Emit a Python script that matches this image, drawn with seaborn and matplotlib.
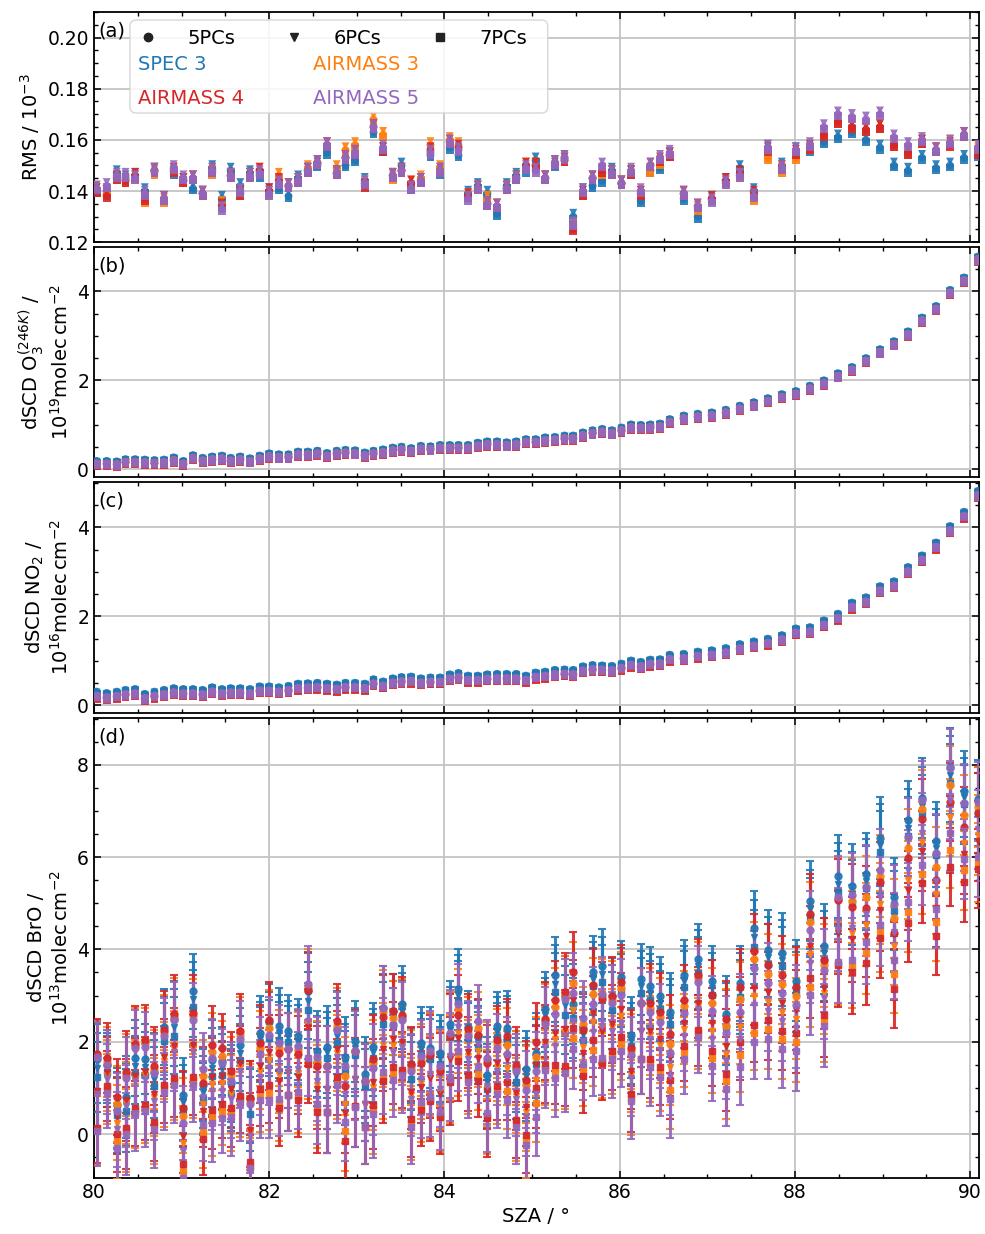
import numpy as np
import pandas as pd
import seaborn as sns
import matplotlib.pyplot as plt
from matplotlib.ticker import MultipleLocator
from matplotlib.patches import FancyBboxPatch
from matplotlib.lines import Line2D

sza = [80.03, 80.145, 80.26, 80.36, 80.47, 80.58, 80.69, 80.80, 80.91, 81.02,
       81.13, 81.24, 81.35, 81.46, 81.56, 81.67, 81.78, 81.89, 82.00, 82.11,
       82.22, 82.33, 82.44, 82.55, 82.66, 82.77, 82.87, 82.98, 83.09, 83.19,
       83.30, 83.41, 83.51, 83.62, 83.73, 83.84, 83.95, 84.06, 84.16, 84.27,
       84.38, 84.49, 84.60, 84.71, 84.82, 84.93, 85.04, 85.15, 85.26, 85.37,
       85.47, 85.58, 85.69, 85.80, 85.91, 86.02, 86.13, 86.24, 86.35, 86.46,
       86.57, 86.73, 86.89, 87.05, 87.21, 87.37, 87.53, 87.69, 87.85, 88.01,
       88.17, 88.33, 88.49, 88.65, 88.81, 88.97, 89.13, 89.29, 89.45, 89.61,
       89.77, 89.93, 90.09]

settings = ['SPEC 3', 'AIRMASS 3', 'AIRMASS 4', 'AIRMASS 5']
colors = ['#1f77b4', '#ff7f0e', '#d62728', '#9467bd']
pcs = ['5PCs', '6PCs', '7PCs']
pc_markers = ['o', 'v', 's']

# (a) RMS / 1e-3
rms_spec3 = [0.140, 0.140, 0.147, 0.145, 0.146, 0.140, 0.148, 0.137, 0.147, 0.144,
             0.141, 0.139, 0.149, 0.137, 0.148, 0.142, 0.147, 0.146, 0.140, 0.141,
             0.138, 0.145, 0.148, 0.150, 0.155, 0.147, 0.150, 0.152, 0.144, 0.163,
             0.156, 0.146, 0.150, 0.141, 0.144, 0.154, 0.147, 0.157, 0.154, 0.139,
             0.142, 0.139, 0.131, 0.142, 0.146, 0.148, 0.152, 0.145, 0.150, 0.153,
             0.130, 0.140, 0.142, 0.144, 0.148, 0.143, 0.147, 0.136, 0.148, 0.149,
             0.154, 0.137, 0.130, 0.137, 0.144, 0.149, 0.140, 0.157, 0.150, 0.156,
             0.156, 0.159, 0.161, 0.163, 0.160, 0.157, 0.150, 0.148, 0.153, 0.149,
             0.150, 0.153, 0.154]
rms_am3 = [0.141, 0.139, 0.145, 0.144, 0.145, 0.136, 0.147, 0.136, 0.148, 0.144,
           0.145, 0.139, 0.147, 0.135, 0.146, 0.139, 0.146, 0.148, 0.139, 0.146,
           0.142, 0.144, 0.149, 0.151, 0.158, 0.149, 0.156, 0.158, 0.143, 0.168,
           0.162, 0.145, 0.148, 0.143, 0.145, 0.158, 0.149, 0.160, 0.158, 0.138,
           0.141, 0.137, 0.134, 0.141, 0.145, 0.150, 0.150, 0.145, 0.151, 0.152,
           0.126, 0.139, 0.145, 0.147, 0.147, 0.143, 0.147, 0.139, 0.148, 0.151,
           0.154, 0.139, 0.133, 0.137, 0.143, 0.146, 0.137, 0.153, 0.148, 0.153,
           0.157, 0.162, 0.167, 0.165, 0.164, 0.165, 0.158, 0.155, 0.159, 0.156,
           0.159, 0.162, 0.156]
rms_am4 = [0.140, 0.138, 0.145, 0.144, 0.146, 0.137, 0.148, 0.137, 0.148, 0.144,
           0.145, 0.139, 0.148, 0.134, 0.146, 0.139, 0.146, 0.148, 0.140, 0.144,
           0.142, 0.144, 0.148, 0.151, 0.158, 0.147, 0.153, 0.155, 0.142, 0.165,
           0.156, 0.146, 0.148, 0.143, 0.144, 0.156, 0.148, 0.159, 0.157, 0.138,
           0.141, 0.135, 0.134, 0.141, 0.145, 0.150, 0.150, 0.145, 0.151, 0.152,
           0.125, 0.139, 0.145, 0.148, 0.147, 0.143, 0.147, 0.139, 0.150, 0.152,
           0.154, 0.139, 0.134, 0.137, 0.144, 0.147, 0.139, 0.156, 0.149, 0.155,
           0.157, 0.162, 0.167, 0.165, 0.164, 0.165, 0.158, 0.155, 0.159, 0.156,
           0.158, 0.162, 0.155]
rms_am5 = [0.141, 0.142, 0.146, 0.146, 0.145, 0.139, 0.148, 0.137, 0.149, 0.145,
           0.145, 0.139, 0.148, 0.133, 0.146, 0.140, 0.146, 0.147, 0.139, 0.143,
           0.142, 0.144, 0.148, 0.151, 0.158, 0.147, 0.153, 0.155, 0.143, 0.165,
           0.157, 0.146, 0.148, 0.141, 0.144, 0.155, 0.148, 0.159, 0.156, 0.137,
           0.141, 0.135, 0.134, 0.141, 0.145, 0.149, 0.148, 0.145, 0.151, 0.153,
           0.127, 0.140, 0.145, 0.150, 0.147, 0.143, 0.148, 0.140, 0.150, 0.153,
           0.155, 0.139, 0.134, 0.136, 0.143, 0.146, 0.138, 0.157, 0.149, 0.156,
           0.158, 0.165, 0.170, 0.169, 0.168, 0.170, 0.161, 0.158, 0.160, 0.156,
           0.159, 0.162, 0.157]
rms_pc_offset = [0.0, 0.0015, -0.0008]

# (b) dSCD O3 / 1e19
o3_am5 = [0.11, 0.11, 0.10, 0.15, 0.15, 0.14, 0.13, 0.14, 0.19, 0.11,
          0.24, 0.18, 0.21, 0.23, 0.18, 0.21, 0.17, 0.23, 0.28, 0.26,
          0.26, 0.32, 0.32, 0.34, 0.29, 0.34, 0.36, 0.35, 0.30, 0.34,
          0.37, 0.41, 0.43, 0.40, 0.45, 0.44, 0.47, 0.47, 0.47, 0.47,
          0.52, 0.55, 0.55, 0.53, 0.55, 0.60, 0.60, 0.64, 0.65, 0.68,
          0.68, 0.75, 0.80, 0.83, 0.80, 0.86, 0.93, 0.92, 0.93, 0.95,
          1.05, 1.13, 1.17, 1.20, 1.26, 1.35, 1.43, 1.52, 1.61, 1.68,
          1.80, 1.92, 2.08, 2.22, 2.42, 2.62, 2.80, 3.02, 3.33, 3.59,
          3.95, 4.23, 4.70]
o3_setting_offset = [0.06, 0.0, -0.02, 0.0]

# (c) dSCD NO2 / 1e16
no2_am5 = [0.20, 0.17, 0.20, 0.24, 0.26, 0.15, 0.20, 0.24, 0.28, 0.26,
           0.26, 0.24, 0.30, 0.26, 0.28, 0.28, 0.26, 0.32, 0.32, 0.30,
           0.33, 0.38, 0.39, 0.40, 0.38, 0.36, 0.40, 0.40, 0.38, 0.48,
           0.43, 0.50, 0.53, 0.54, 0.50, 0.52, 0.52, 0.59, 0.62, 0.56,
           0.56, 0.59, 0.60, 0.60, 0.60, 0.56, 0.63, 0.65, 0.69, 0.70,
           0.69, 0.77, 0.80, 0.79, 0.78, 0.83, 0.90, 0.87, 0.92, 0.93,
           1.03, 1.05, 1.10, 1.13, 1.18, 1.27, 1.33, 1.39, 1.47, 1.62,
           1.65, 1.80, 1.95, 2.20, 2.32, 2.57, 2.68, 3.00, 3.26, 3.55,
           3.92, 4.24, 4.71]
no2_setting_offset = [0.09, -0.01, -0.03, 0.0]
trace_pc_offset = [0.02, 0.0, -0.02]

# (d) dSCD BrO / 1e13
bro_spec3 = [1.43, 1.43, 0.52, 0.66, 1.48, 1.46, 1.19, 2.17, 2.31, 0.69,
             2.92, 0.92, 1.44, 1.43, 1.00, 1.75, 0.61, 2.06, 2.25, 2.19,
             2.11, 1.99, 2.89, 1.68, 1.77, 2.13, 1.53, 1.86, 1.17, 1.77,
             2.56, 2.51, 2.67, 1.34, 1.84, 1.75, 1.64, 2.26, 3.01, 2.20,
             1.99, 1.12, 2.22, 2.17, 1.28, 1.26, 1.64, 2.58, 3.26, 2.79,
             2.67, 2.17, 3.36, 3.46, 2.83, 3.25, 2.03, 3.20, 3.05, 2.85,
             2.52, 3.32, 3.64, 3.17, 2.46, 3.12, 4.26, 3.84, 3.78, 3.20,
             4.87, 3.93, 5.41, 5.19, 5.48, 6.26, 4.99, 6.62, 7.10, 6.20,
             7.78, 7.29, 7.10]
bro_am3 = [0.90, 1.27, 0.25, 0.68, 1.21, 1.27, 0.80, 1.59, 1.84, -0.20,
           1.85, 0.65, 1.08, 1.10, 0.87, 1.45, 0.02, 1.36, 1.60, 1.27,
           1.34, 1.33, 2.38, 1.07, 0.97, 1.75, 0.66, 1.20, 0.65, 1.03,
           1.94, 1.92, 1.94, 0.84, 1.11, 1.26, 0.92, 1.66, 2.20, 1.70,
           1.80, 1.00, 1.46, 1.43, 0.83, 0.47, 1.18, 1.94, 2.06, 2.20,
           2.68, 1.89, 2.43, 2.29, 2.31, 2.56, 1.29, 2.23, 2.14, 1.94,
           1.46, 2.27, 2.78, 2.24, 1.74, 2.32, 2.99, 2.87, 2.65, 2.50,
           3.89, 3.06, 4.40, 4.35, 4.53, 4.99, 4.07, 5.50, 6.33, 5.19,
           6.86, 6.31, 6.48]
bro_am4 = [0.94, 1.34, 0.40, 0.74, 1.26, 1.34, 0.87, 1.66, 1.91, -0.04,
           1.93, 0.50, 1.23, 1.26, 0.97, 1.53, 0.09, 1.48, 1.77, 1.16,
           1.34, 1.24, 2.31, 0.97, 0.97, 1.84, 0.45, 1.20, 0.65, 1.12,
           1.84, 2.06, 1.99, 0.92, 1.03, 1.21, 0.87, 1.62, 2.08, 1.77,
           1.64, 0.94, 1.54, 1.62, 0.90, 0.58, 1.49, 1.99, 2.20, 2.27,
           2.90, 1.75, 2.63, 2.23, 2.39, 2.70, 1.36, 2.23, 2.23, 2.05,
           1.67, 2.41, 2.85, 2.41, 1.90, 2.59, 3.17, 3.07, 2.84, 2.69,
           4.07, 3.17, 4.36, 4.22, 4.30, 4.85, 3.75, 5.28, 6.13, 4.90,
           6.49, 6.06, 6.35]
bro_am5 = [0.87, 1.19, 0.10, 0.61, 1.16, 1.19, 0.72, 1.52, 1.77, -0.36,
           1.77, 0.80, 0.94, 0.94, 0.76, 1.37, -0.04, 1.23, 1.44, 1.37,
           1.34, 1.41, 2.45, 1.16, 0.97, 1.66, 0.87, 1.19, 0.65, 0.94,
           2.04, 1.77, 1.88, 0.76, 1.19, 1.30, 0.97, 1.70, 2.31, 1.62,
           1.95, 1.05, 1.37, 1.23, 0.76, 0.36, 0.87, 1.88, 1.91, 2.13,
           2.45, 2.02, 2.22, 2.34, 2.23, 2.41, 1.22, 2.23, 2.05, 1.83,
           1.25, 2.12, 2.70, 2.07, 1.58, 2.05, 2.80, 2.67, 2.45, 2.30,
           3.71, 2.95, 4.43, 4.47, 4.76, 5.13, 4.38, 5.73, 6.53, 5.48,
           7.23, 6.56, 6.60]
bro_pc_spread = [0.8, 0.3, 0.4, 0.6, 0.7, 0.7, 0.6, 0.6, 0.7, 0.6,
                 0.7, 0.6, 0.7, 0.6, 0.4, 0.7, 0.7, 0.5, 0.7, 0.6,
                 0.5, 0.5, 0.8, 0.5, 0.5, 0.6, 0.6, 0.6, 0.5, 0.5,
                 0.7, 0.6, 0.6, 0.6, 0.5, 0.5, 0.5, 0.5, 0.5, 0.5,
                 0.5, 0.6, 0.5, 0.5, 0.6, 0.6, 0.5, 0.5, 0.7, 0.8,
                 0.6, 0.5, 0.6, 0.7, 0.6, 0.6, 0.5, 0.6, 0.6, 0.6,
                 0.5, 0.5, 0.6, 0.6, 0.6, 0.6, 0.8, 0.6, 0.6, 0.5,
                 0.7, 0.6, 0.7, 0.7, 0.6, 0.6, 0.6, 0.7, 0.7, 0.6,
                 0.7, 0.6, 0.6]
bro_pc_sign = [1, 0, -1]
bro_spread_scale = [0.25, 1.0, 1.0, 1.0]
bro_err = [0.76, 0.76, 0.82, 0.89, 0.82, 0.76, 0.85, 0.83, 0.83, 0.81,
           0.81, 0.78, 0.85, 0.74, 0.84, 0.81, 0.80, 0.81, 0.82, 0.82,
           0.78, 0.81, 0.83, 0.87, 0.87, 0.82, 0.85, 0.88, 0.80, 0.95,
           0.91, 0.80, 0.82, 0.81, 0.78, 0.87, 0.81, 0.92, 0.87, 0.77,
           0.78, 0.83, 0.74, 0.81, 0.81, 0.83, 0.85, 0.81, 0.84, 0.86,
           0.87, 0.79, 0.79, 0.80, 0.84, 0.79, 0.82, 0.77, 0.85, 0.83,
           0.84, 0.76, 0.77, 0.76, 0.81, 0.81, 0.80, 0.87, 0.86, 0.87,
           0.86, 0.90, 0.90, 0.92, 0.90, 0.88, 0.85, 0.85, 0.86, 0.85,
           0.84, 0.86, 0.86]

rms_all = [rms_spec3, rms_am3, rms_am4, rms_am5]
bro_all = [bro_spec3, bro_am3, bro_am4, bro_am5]

plt.rcParams['font.family'] = ['DejaVu Sans']
plt.rcParams['font.size'] = 14
plt.rcParams['axes.linewidth'] = 1.3

# long tables for the scatter panels
rows = []
for si, s in enumerate(settings):
    for pi, p in enumerate(pcs):
        for k, x in enumerate(sza):
            rows.append({'sza': x, 'setting': s, 'pcs': p,
                         'rms': rms_all[si][k] + rms_pc_offset[pi],
                         'o3': o3_am5[k] + o3_setting_offset[si] + trace_pc_offset[pi],
                         'no2': no2_am5[k] + no2_setting_offset[si] + trace_pc_offset[pi]})
df = pd.DataFrame(rows)

fig, axes = plt.subplots(4, 1, figsize=(9.85, 12.34), dpi=100, sharex=True,
                         gridspec_kw={'height_ratios': [1, 1, 1, 2], 'hspace': 0.0174})
fig.subplots_adjust(left=0.0954, right=0.9939, top=0.9903, bottom=0.0454)

pal = dict(zip(settings, colors))
mk = dict(zip(pcs, pc_markers))
for ax, col in zip(axes[:3], ['rms', 'o3', 'no2']):
    sns.scatterplot(data=df, x='sza', y=col, hue='setting', style='pcs', palette=pal,
                    markers=mk, s=32, linewidth=0, alpha=0.9, legend=False, ax=ax, zorder=3)

ax = axes[3]
for si, s in enumerate(settings):
    for pi, p in enumerate(pcs):
        vals = [bro_all[si][k] + bro_pc_sign[pi] * bro_spread_scale[si] * bro_pc_spread[k]
                for k in range(len(sza))]
        ax.errorbar(sza, vals, yerr=bro_err, fmt=pc_markers[pi], color=colors[si],
                    ms=5, elinewidth=2.2, capsize=2.9, capthick=1.5, alpha=0.9, zorder=3)

ylims = [(0.12, 0.21), (-0.18, 4.99), (-0.16, 5.01), (-0.95, 9.02)]
ymajor = [0.02, 2, 2, 2]
yminor = [0.005, 0.5, 0.5, 0.5]
ylabels = ['RMS / $10^{-3}$',
           'dSCD O$_3^{(246K)}$ /\n$10^{19}$molec$\\,$cm$^{-2}$',
           'dSCD NO$_2$ /\n$10^{16}$molec$\\,$cm$^{-2}$',
           'dSCD BrO /\n$10^{13}$molec$\\,$cm$^{-2}$']
tags = ['(a)', '(b)', '(c)', '(d)']
for i, ax in enumerate(axes):
    ax.set_xlim(80, 90.1)
    ax.set_ylim(*ylims[i])
    ax.xaxis.set_major_locator(MultipleLocator(2))
    ax.xaxis.set_minor_locator(MultipleLocator(0.5))
    ax.yaxis.set_major_locator(MultipleLocator(ymajor[i]))
    ax.yaxis.set_minor_locator(MultipleLocator(yminor[i]))
    ax.tick_params(which='both', direction='in', top=True, right=True, labelsize=13.5)
    ax.tick_params(which='major', length=5, width=1.1)
    ax.tick_params(which='minor', length=3, width=1.0)
    ax.grid(True, which='major', color='#c4c4c4', lw=1.3, zorder=0)
    ax.set_axisbelow(True)
    ax.set_ylabel(ylabels[i], fontsize=14)
    ax.set_xlabel('')
    ax.annotate(tags[i], xy=(0, 1), xycoords='axes fraction', xytext=(4, -19),
                textcoords='offset pixels', va='center', ha='left', fontsize=14)
axes[0].yaxis.set_major_formatter(plt.FormatStrFormatter('%.2f'))
axes[3].set_xlabel('SZA / °', fontsize=14)

# legend box in panel (a)
ax = axes[0]
frame = FancyBboxPatch((0.0407, 0.561), 0.472, 0.404, transform=ax.transAxes,
                       boxstyle='round,pad=0,rounding_size=0.007', mutation_aspect=3.85,
                       facecolor='white', edgecolor='#d0d0d0', alpha=0.85, lw=1.0, zorder=4)
ax.add_patch(frame)
mk_handles = [Line2D([], [], ls='none', marker=m, color='#222222', ms=6) for m in pc_markers]
leg1 = ax.legend(mk_handles, pcs, ncol=3, loc='upper left', bbox_to_anchor=(0.0395, 0.925),
                 frameon=False, borderpad=0, borderaxespad=0, handlelength=2,
                 handletextpad=1.0, columnspacing=2.05, fontsize=14)
ax.add_artist(leg1)
# column-wise fill: col 1 = SPEC 3, AIRMASS 4 ; col 2 = AIRMASS 3, AIRMASS 5
leg_order = [0, 2, 1, 3]
txt_handles = [Line2D([], [], ls='none') for _ in leg_order]
leg2 = ax.legend(txt_handles, [settings[j] for j in leg_order], ncol=2, loc='upper left',
                 bbox_to_anchor=(0.0497, 0.812), frameon=False, borderpad=0, borderaxespad=0,
                 handlelength=0, handletextpad=0, columnspacing=3.55, labelspacing=0.75,
                 labelcolor=[colors[j] for j in leg_order], fontsize=14)

plt.savefig('out.png', dpi=100)
